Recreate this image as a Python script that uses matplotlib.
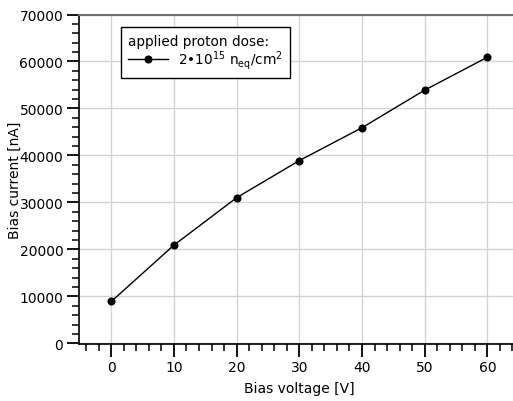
import matplotlib.pyplot as plt
from matplotlib.ticker import MultipleLocator

voltage = [0, 10, 20, 30, 40, 50, 60]
current = [8900, 20900, 31000, 38900, 45900, 53900, 60900]
dose_label = "2•10$^{15}$ n$_{\\rm eq}$/cm$^{2}$"

plt.rcParams["font.family"] = ["DejaVu Sans"]
plt.rcParams["font.size"] = 10
plt.rcParams["mathtext.default"] = "regular"

fig = plt.figure(figsize=(5.13, 4.02), dpi=100)
W, H = 513.0, 402.0
x0, x1, y0, y1 = 79.3, 518.7, 15.5, 345.0
ax = fig.add_axes([x0 / W, 1 - y1 / H, (x1 - x0) / W, (y1 - y0) / H])

ax.plot(voltage, current, color="black", lw=1, marker="o", ms=4.8, label=dose_label)

ax.set_xlim(-5.1, 65)
ax.set_ylim(-150, 70000)
ax.xaxis.set_major_locator(MultipleLocator(10))
ax.xaxis.set_minor_locator(MultipleLocator(2))
ax.yaxis.set_major_locator(MultipleLocator(10000))
ax.yaxis.set_minor_locator(MultipleLocator(2000))
ax.tick_params(which="major", direction="out", length=9, width=1.3, pad=2.5)
ax.tick_params(which="minor", direction="out", length=5, width=1.1)
ax.grid(which="major", color="#d4d4d4", lw=1)
ax.set_axisbelow(True)

for s in ["left", "bottom"]:
    ax.spines[s].set_color("black")
    ax.spines[s].set_linewidth(1.2)
ax.spines["top"].set_color("#707070")
ax.spines["top"].set_linewidth(1.5)
ax.spines["right"].set_visible(False)

ax.set_xlabel("Bias voltage [V]", labelpad=5, fontsize=10)
ax.set_ylabel("Bias current [nA]", fontsize=10)
ax.yaxis.set_label_coords(-0.130, 0.5)

leg = ax.legend(title="applied proton dose:", loc="upper left",
                bbox_to_anchor=(0.095, 0.962), fancybox=False,
                edgecolor="black", framealpha=1, borderpad=0.52,
                labelspacing=0.0, handlelength=2.9, handletextpad=0.8,
                borderaxespad=0, fontsize=9.8, title_fontsize=9.8)
leg.get_frame().set_linewidth(1)
leg._legend_box.align = "left"

fig.savefig("out.png", dpi=100)
